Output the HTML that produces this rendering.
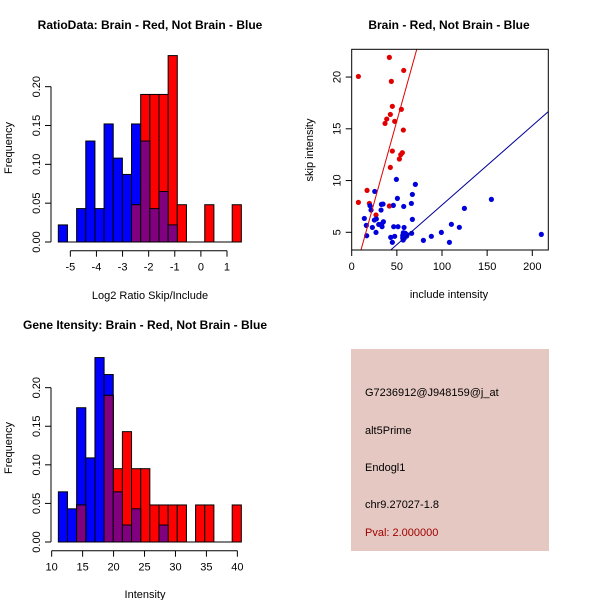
<!DOCTYPE html>
<html><head><meta charset="utf-8">
<style>
body{margin:0;background:#fff;}
svg{display:block;font-family:"Liberation Sans",Arial,sans-serif;}
</style></head>
<body>
<svg id="c" width="600" height="600" viewBox="0 0 600 600">
<rect x="0" y="0" width="600" height="600" fill="#fff"/>
<text x="150" y="29" text-anchor="middle" font-size="12" font-weight="bold">RatioData: Brain - Red, Not Brain - Blue</text>
<text x="150" y="299" text-anchor="middle" font-size="11">Log2 Ratio Skip/Include</text>
<text transform="translate(12,148) rotate(-90)" text-anchor="middle" font-size="11">Frequency</text>
<text x="449" y="29" text-anchor="middle" font-size="12" font-weight="bold">Brain - Red, Not Brain - Blue</text>
<text x="449" y="298" text-anchor="middle" font-size="11">include intensity</text>
<text transform="translate(313,150) rotate(-90)" text-anchor="middle" font-size="11">skip intensity</text>
<text x="145" y="329" text-anchor="middle" font-size="12" font-weight="bold">Gene Itensity: Brain - Red, Not Brain - Blue</text>
<text x="145" y="598" text-anchor="middle" font-size="11">Intensity</text>
<text transform="translate(12,448) rotate(-90)" text-anchor="middle" font-size="11">Frequency</text>
<g>
<rect x="351" y="349" width="198" height="202" fill="#e6c8c2"/>
<text x="365" y="396" font-size="11">G7236912@J948159@j_at</text>
<text x="365" y="434" font-size="11">alt5Prime</text>
<text x="365" y="471" font-size="11">Endogl1</text>
<text x="365" y="508" font-size="11">chr9.27027-1.8</text>
<text x="365" y="536" font-size="11" fill="#a00000">Pval: 2.000000</text>
</g>
</svg>
<script>
// Ratio histogram data
const ratioBreakStart = -5.46;
const ratioBinWidth = 0.3505;
const ratioBlue = [0.022,0,0.043,0.13,0.043,0.152,0.108,0.087,0.152,0.13,0.043,0.065,0.022,0,0,0,0,0,0,0];
const ratioRed = [0,0,0,0,0,0,0,0,0.048,0.19,0.19,0.19,0.24,0.048,0,0,0.048,0,0,0.048];
const ratioXTicks = [-5,-4,-3,-2,-1,0,1];
const freqTicks = [0,0.05,0.10,0.15,0.20];
const freqTickLabels = ["0.00","0.05","0.10","0.15","0.20"];
// Gene histogram data
const geneBreakStart = 11.08;
const geneBinWidth = 1.478;
const geneBlue = [0.065,0.043,0.174,0.109,0.239,0.217,0.065,0.022,0.043,0,0,0.022,0,0,0,0,0,0,0,0];
const geneRed = [0,0,0.048,0,0,0.19,0.095,0.143,0.095,0.095,0.048,0.048,0.048,0.048,0,0.048,0.048,0,0,0.048];
const geneXTicks = [10,15,20,25,30,35,40];
// Scatter data
const redX = [7.4,41.7,57.6,43.9,45.0,42.8,38.8,36.9,47.6,55.0,57.2,45.0,56.1,54.3,52.8,42.8,17.0,7.4,19.6,41.7,26.9];
const redY = [20.06,21.9,20.64,19.58,17.17,16.39,15.94,15.52,15.72,16.88,14.88,12.85,12.69,12.50,12.08,11.27,9.05,7.89,7.79,7.54,6.67];
const blueX = [25.5,49.5,70.5,67.2,50.6,34.7,32.9,20.3,46.1,57.6,66.1,21.4,32.5,27.3,25.1,35.1,33.2,29.9,14.0,16.2,33.6,22.9,46.5,51.3,58.0,67.2,26.9,43.2,47.6,57.2,59.4,61.3,56.8,58.3,60.9,66.4,16.6,45.0,79.4,88.2,99.3,108.2,110.4,119.2,124.8,154.7,210.0,56.5,57.0,56.5];
const blueY = [8.95,10.11,9.63,8.66,8.28,7.73,7.70,7.57,7.60,7.50,7.79,7.15,7.15,6.29,6.18,6.02,5.80,5.76,6.34,5.67,5.54,5.47,5.54,5.54,5.47,6.25,4.99,4.51,4.61,4.96,4.90,4.77,4.57,4.44,4.64,4.90,4.67,4.03,4.22,4.61,4.99,4.03,5.77,5.48,7.31,8.18,4.80,4.70,4.25,4.45];
const redLine = [0.06,0.314];
const blueLine = [-0.02,0.0766];
const scatterXTicks = [0,50,100,150,200];
const scatterYTicks = [5,10,15,20];

const svg = document.getElementById('c');
const NS = 'http://www.w3.org/2000/svg';
function mk(tag, attrs, parent){
  const e = document.createElementNS(NS, tag);
  for (const k in attrs) e.setAttribute(k, attrs[k]);
  (parent||svg).appendChild(e);
  return e;
}

function hist(prefix, start, w, blue, red, xTicks, xs, ys, axisY, axisX){
  const g = mk('g', {});
  
  
  const y0 = ys(0);
  function bar(i, v, color, nm){
    if (v <= 0) return;
    const x1 = xs(start + i*w), x2 = xs(start + (i+1)*w);
    const r = mk('rect', {x:x1, y:ys(v), width:x2-x1, height:y0-ys(v), fill:color, stroke:'#000', 'stroke-width':1}, g);
    
    
  }
  blue.forEach((v,i)=>bar(i, v, '#0000ff', prefix + '-blue'));
  red.forEach((v,i)=>bar(i, v, '#ff0000', prefix + '-red'));
  blue.forEach((v,i)=>bar(i, Math.min(v, red[i]), '#800080', prefix + '-overlap'));
  // baseline
  const bl = mk('line', {x1:xs(start), x2:xs(start + blue.length*w), y1:y0, y2:y0, stroke:'#000'}, g);
  
  
  // y axis
  const ya = mk('g', {}, g);
  
  
  mk('line', {x1:axisX, x2:axisX, y1:ys(freqTicks[0]), y2:ys(freqTicks[freqTicks.length-1]), stroke:'#000'}, ya);
  freqTicks.forEach((t,i)=>{
    mk('line', {x1:axisX-6, x2:axisX, y1:ys(t), y2:ys(t), stroke:'#000'}, ya);
    const tx = mk('text', {transform:'translate('+(axisX-11)+','+ys(t)+') rotate(-90)', 'text-anchor':'middle', 'font-size':11}, ya);
    tx.textContent = freqTickLabels[i];
  });
  // x axis
  const xa = mk('g', {}, g);
  
  
  mk('line', {x1:xs(xTicks[0]), x2:xs(xTicks[xTicks.length-1]), y1:axisY, y2:axisY, stroke:'#000'}, xa);
  xTicks.forEach(t=>{
    mk('line', {x1:xs(t), x2:xs(t), y1:axisY, y2:axisY+6, stroke:'#000'}, xa);
    const tx = mk('text', {x:xs(t), y:axisY+20, 'text-anchor':'middle', 'font-size':11}, xa);
    tx.textContent = String(t);
  });
}

// Ratio histogram scales
const rxs = v => 70.33 + (v + 5) * 26.11;
const rys = v => 242 - v * (155.33 / 0.2);
hist('ratio', ratioBreakStart, ratioBinWidth, ratioBlue, ratioRed, ratioXTicks, rxs, rys, 250.7, 51);

// Gene histogram scales
const gxs = v => 51.67 + (v - 10) * 6.19;
const gys = v => 542 - v * (154.33 / 0.2);
hist('gene', geneBreakStart, geneBinWidth, geneBlue, geneRed, geneXTicks, gxs, gys, 550.7, 51);

// Scatter
const sxs = v => 351.7 + v * 0.903;
const sys = v => 232.3 - (v - 5) * 10.35;
const box = {x1:351.7, x2:548.3, y1:49.3, y2:250};
const sg = mk('g', {});


const defs = mk('defs', {}, sg);
const cp = mk('clipPath', {id:'clip'}, defs);
mk('rect', {x:box.x1, y:box.y1, width:box.x2-box.x1, height:box.y2-box.y1}, cp);
const pts = mk('g', {'clip-path':'url(#clip)'}, sg);
function drawLine(coef, color, nm){
  const xa = -10, xb = 240;
  const l = mk('line', {x1:sxs(xa), y1:sys(coef[0]+coef[1]*xa), x2:sxs(xb), y2:sys(coef[0]+coef[1]*xb), stroke:color, 'stroke-width':1}, pts);
  
  
}
redX.forEach((x,i)=>{
  const c = mk('circle', {cx:sxs(x), cy:sys(redY[i]), r:2.6, fill:'#e00000'}, pts);
  
  
});
blueX.forEach((x,i)=>{
  const c = mk('circle', {cx:sxs(x), cy:sys(blueY[i]), r:2.6, fill:'#0000dd'}, pts);
  
  
});
drawLine(redLine, '#e00000', 'brain-fit-line');
drawLine(blueLine, '#00009a', 'not-brain-fit-line');
const fr = mk('rect', {x:box.x1, y:box.y1, width:box.x2-box.x1, height:box.y2-box.y1, fill:'none', stroke:'#000'}, sg);


const sxa = mk('g', {}, sg);


scatterXTicks.forEach(t=>{
  mk('line', {x1:sxs(t), x2:sxs(t), y1:box.y2, y2:box.y2+6, stroke:'#000'}, sxa);
  const tx = mk('text', {x:sxs(t), y:box.y2+20, 'text-anchor':'middle', 'font-size':11}, sxa);
  tx.textContent = String(t);
});
const sya = mk('g', {}, sg);


scatterYTicks.forEach(t=>{
  mk('line', {x1:box.x1-6, x2:box.x1, y1:sys(t), y2:sys(t), stroke:'#000'}, sya);
  const tx = mk('text', {transform:'translate('+(box.x1-11)+','+sys(t)+') rotate(-90)', 'text-anchor':'middle', 'font-size':11}, sya);
  tx.textContent = String(t);
});
</script>
</body></html>
